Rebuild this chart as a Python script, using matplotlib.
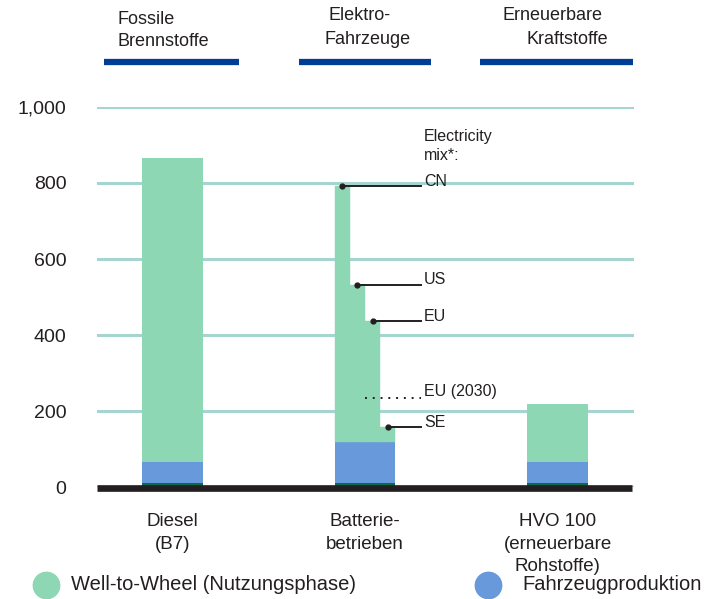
import matplotlib.pyplot as plt
from matplotlib.lines import Line2D
import numpy as np

plt.rcParams['font.family'] = ['Liberation Sans', 'DejaVu Sans']

categories = ['Diesel\n(B7)', 'Batterie-\nbetrieben', 'HVO 100\n(erneuerbare\nRohstoffe)']
base = [11, 11, 11]            # dark strip at the foot of each bar
production = [55, 107, 55]     # Fahrzeugproduktion
wtw = [800, 0, 152]            # Well-to-Wheel, battery handled by mix below
mix_names = ['CN', 'US', 'EU', 'SE']
mix_wtw = [674, 414, 319, 40]
eu2030_wtw = 116
yticks = [0, 200, 400, 600, 800, 1000]
ytick_labels = ['0', '200', '400', '600', '800', '1,000']

ink = '#231f20'
green = '#8dd7b5'
blue = '#6899db'
dark = '#0b6a4a'
grid = '#a6d4d1'
navy = '#003d94'

W, H = 712, 599
fig = plt.figure(figsize=(W / 100, H / 100), dpi=100)
ax = fig.add_axes([97 / W, 112 / H, 537 / W, 380 / H])
ax.set_xlim(-0.3922, 2.3974)
ax.set_ylim(0, 1000)

x = np.arange(3)
w = 0.312
ax.bar(x, base, w, color=dark, linewidth=0, zorder=2)
ax.bar(x, production, w, bottom=base, color=blue, linewidth=0, zorder=2)
for i in (0, 2):
    ax.bar(x[i], wtw[i], w, bottom=base[i] + production[i], color=green,
           linewidth=0, zorder=2)

# battery bar: one green step per electricity mix
bot = base[1] + production[1]
sub = w / 4
lefts = x[1] - w / 2 + sub * np.arange(4)
ax.bar(lefts, mix_wtw, sub, bottom=bot, align='edge', color=green,
       edgecolor=green, linewidth=0.3, zorder=2)

lab = dict(textcoords='offset points', va='center', ha='left', fontsize=11.5, color=ink)
line_end = x[1] + w / 2 + 0.135
for name, left, val in zip(mix_names, lefts, mix_wtw):
    top = bot + val
    ax.plot([left + sub / 2, line_end], [top, top], color=ink, lw=1.4, zorder=4)
    ax.plot([left + sub / 2], [top], 'o', color=ink, ms=3.5, zorder=4)
    ax.annotate(name, (line_end, top), xytext=(2, 3.5), **lab)
ax.plot([lefts[2], line_end], [bot + eu2030_wtw] * 2, color=ink, lw=1.4,
        ls=(0, (1, 3)), zorder=4)
ax.annotate('EU (2030)', (line_end, bot + eu2030_wtw), xytext=(2, 4.5), **lab)
ax.annotate('Electricity\nmix*:', (line_end, 897), xytext=(2, 0), linespacing=1.35, **lab)

# thick baseline
ax.axhline(-3, xmin=0, xmax=535 / 537, color=ink, lw=4.8, zorder=3,
           solid_capstyle='butt', clip_on=False)

ax.set_yticks(yticks, ytick_labels, fontsize=14, color=ink)
ax.set_xticks(x, categories, fontsize=13.5, color=ink, linespacing=1.45)
ax.tick_params(axis='y', length=0, pad=22)
ax.tick_params(axis='x', length=0, pad=18.5)
ax.grid(axis='y', color=grid, lw=2.2)
ax.set_axisbelow(True)
for s in ax.spines.values():
    s.set_visible(False)

# group headers with navy rules
headers = [
    (117, 20, 'Fossile'), (117, 42, 'Brennstoffe'),
    (328, 16, 'Elektro-'), (325, 40, 'Fahrzeuge'),
    (503, 15, 'Erneuerbare'), (527, 40, 'Kraftstoffe'),
]
for px, py, t in headers:
    fig.text(px / W, 1 - py / H, t, ha='left', va='center', fontsize=13, color=ink)
for x0, x1 in [(104, 239), (299, 431), (480, 633)]:
    fig.add_artist(Line2D([x0 / W, x1 / W], [1 - 62 / H] * 2, color=navy, lw=4.5,
                          solid_capstyle='butt'))

# legend
for cx, tx, col, label in [(46, 71, green, 'Well-to-Wheel (Nutzungsphase)'),
                           (488, 522, blue, 'Fahrzeugproduktion')]:
    fig.add_artist(Line2D([cx / W], [1 - 585 / H], marker='o', ms=19, color=col,
                          linestyle='none'))
    fig.text(tx / W, 1 - 585 / H, label, ha='left', va='center', fontsize=14.5, color=ink)

fig.savefig('out.png', dpi=100)
